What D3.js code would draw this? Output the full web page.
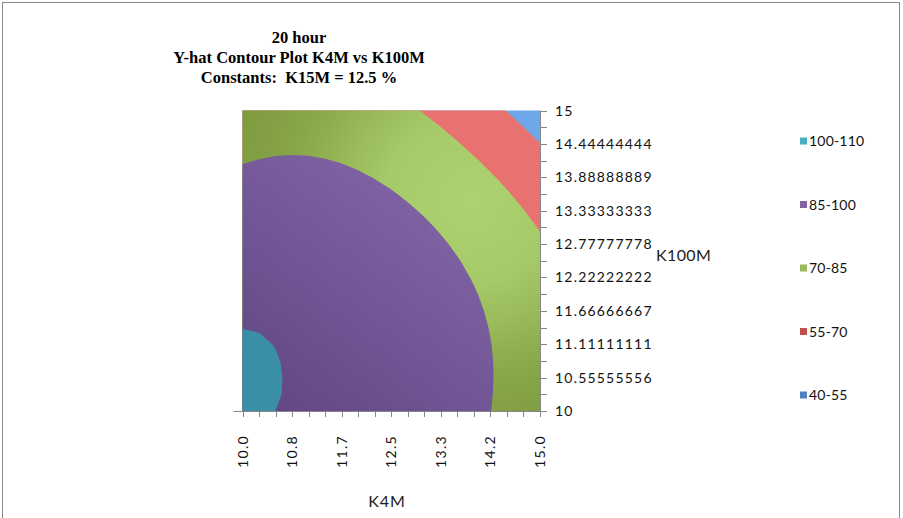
<!DOCTYPE html>
<html><head><meta charset="utf-8">
<script src="https://cdn.jsdelivr.net/npm/d3@7"></script>
<style>
html,body{margin:0;padding:0;background:#fff;}
svg{display:block;}
</style></head>
<body>
<svg id="chart" width="903" height="518"></svg>
<script>
// ---------------- data ----------------
const titleLines = ["20 hour", "Y-hat Contour Plot K4M vs K100M", "Constants:  K15M = 12.5 %"];
const xAxisTitle = "K4M";
const yAxisTitle = "K100M";
// grid positions (K4M across, K100M up)
const k4mGrid = [10.0000, 10.2778, 10.5556, 10.8333, 11.1111, 11.3889, 11.6667, 11.9444, 12.2222, 12.5000,
                 12.7778, 13.0556, 13.3333, 13.6111, 13.8889, 14.1667, 14.4444, 14.7222, 15.0000];
const k100mGrid = [10.0000, 10.2778, 10.5556, 10.8333, 11.1111, 11.3889, 11.6667, 11.9444, 12.2222, 12.5000,
                   12.7778, 13.0556, 13.3333, 13.6111, 13.8889, 14.1667, 14.4444, 14.7222, 15.0000];
const xTickLabels = ["10.0", "10.8", "11.7", "12.5", "13.3", "14.2", "15.0"];
const yTickLabels = ["10", "10.55555556", "11.11111111", "11.66666667", "12.22222222",
                     "12.77777778", "13.33333333", "13.88888889", "14.44444444", "15"];
const bandLabels = ["100-110", "85-100", "70-85", "55-70", "40-55"];
const bandLower  = [100, 85, 70, 55, 40];
// estimated Y-hat values, one row per K100M grid value (10 -> 15), columns K4M 10 -> 15
const yhatRows = [
 [100.50,100.37, 99.99, 99.43, 98.72, 97.85, 96.87, 95.84, 94.77, 93.68, 92.58, 91.44, 90.22, 88.83, 87.17, 85.09, 82.75, 80.23, 77.52],
 [100.80,100.63,100.22, 99.63, 98.89, 98.00, 97.01, 95.96, 94.89, 93.80, 92.71, 91.58, 90.38, 89.01, 87.39, 85.34, 82.99, 80.47, 77.76],
 [100.86,100.68,100.25, 99.65, 98.90, 98.01, 97.02, 95.96, 94.89, 93.82, 92.73, 91.62, 90.43, 89.08, 87.47, 85.45, 83.10, 80.57, 77.86],
 [100.77,100.60,100.17, 99.58, 98.84, 97.95, 96.96, 95.91, 94.85, 93.77, 92.69, 91.58, 90.39, 89.04, 87.42, 85.39, 83.04, 80.52, 77.80],
 [100.48,100.32, 99.92, 99.35, 98.63, 97.76, 96.79, 95.76, 94.70, 93.64, 92.56, 91.44, 90.24, 88.87, 87.23, 85.16, 82.81, 80.29, 77.57],
 [ 99.96, 99.85, 99.49, 98.96, 98.27, 97.43, 96.49, 95.49, 94.45, 93.39, 92.32, 91.19, 89.97, 88.57, 86.87, 84.74, 82.40, 79.87, 77.14],
 [ 99.22, 99.17, 98.87, 98.39, 97.75, 96.96, 96.06, 95.09, 94.07, 93.03, 91.95, 90.81, 89.56, 88.10, 86.32, 84.14, 81.79, 79.24, 76.50],
 [ 98.28, 98.30, 98.08, 97.66, 97.08, 96.34, 95.48, 94.55, 93.57, 92.54, 91.46, 90.29, 88.98, 87.44, 85.54, 83.34, 80.96, 78.39, 75.63],
 [ 97.13, 97.24, 97.10, 96.76, 96.24, 95.56, 94.76, 93.87, 92.92, 91.90, 90.80, 89.59, 88.21, 86.55, 84.52, 82.31, 79.90, 77.30, 74.50],
 [ 95.79, 96.00, 95.95, 95.69, 95.24, 94.63, 93.89, 93.04, 92.10, 91.08, 89.96, 88.69, 87.19, 85.38, 83.31, 81.05, 78.60, 75.95, 73.11],
 [ 94.26, 94.58, 94.62, 94.45, 94.08, 93.53, 92.84, 92.03, 91.11, 90.07, 88.90, 87.53, 85.89, 83.97, 81.86, 79.55, 77.04, 74.33, 71.42],
 [ 92.57, 92.99, 93.13, 93.04, 92.75, 92.26, 91.62, 90.83, 89.91, 88.84, 87.58, 86.08, 84.30, 82.34, 80.17, 77.80, 75.21, 72.42, 69.46],
 [ 90.73, 91.24, 91.47, 91.46, 91.24, 90.81, 90.20, 89.42, 88.47, 87.34, 85.96, 84.33, 82.51, 80.48, 78.23, 75.77, 73.09, 70.20, 67.30],
 [ 88.76, 89.35, 89.66, 89.72, 89.55, 89.16, 88.57, 87.78, 86.77, 85.53, 84.06, 82.39, 80.50, 78.38, 76.03, 73.47, 70.68, 67.83, 64.82],
 [ 86.68, 87.32, 87.70, 87.81, 87.68, 87.31, 86.71, 85.87, 84.79, 83.51, 81.99, 80.24, 78.25, 76.02, 73.56, 70.87, 68.09, 65.15, 61.99],
 [ 84.53, 85.18, 85.59, 85.73, 85.62, 85.24, 84.62, 83.77, 82.66, 81.31, 79.71, 77.86, 75.76, 73.41, 70.81, 68.11, 65.24, 62.14, 58.80],
 [ 82.34, 83.01, 83.42, 83.57, 83.46, 83.07, 82.43, 81.52, 80.35, 78.91, 77.21, 75.25, 73.02, 70.53, 67.93, 65.13, 62.08, 58.78, 55.24],
 [ 79.97, 80.69, 81.13, 81.29, 81.16, 80.76, 80.07, 79.10, 77.85, 76.32, 74.50, 72.40, 70.03, 67.56, 64.82, 61.83, 58.58, 55.06, 51.28],
 [ 77.43, 78.20, 78.67, 78.84, 78.71, 78.28, 77.54, 76.50, 75.16, 73.52, 71.57, 69.37, 67.00, 64.36, 61.43, 58.22, 54.73, 50.97, 46.91]
];

// ---------------- layout / style ----------------
const plot = {left: 242.5, right: 540, top: 110.5, bottom: 411};
const legendColors = {"100-110": "#4BACC6", "85-100": "#8064A2", "70-85": "#9BBB59", "55-70": "#C0504D", "40-55": "#4F81BD"};
const labelFont = "Lato, 'Open Sans', sans-serif";
const axisColor = "#868686";

const svg = d3.select("#chart");
svg.append("rect").attr("x", 0).attr("y", 0).attr("width", 903).attr("height", 518).attr("fill", "#fff");
svg.append("rect").attr("x", 2.5).attr("y", 2.5).attr("width", 897).attr("height", 530)
   .attr("fill", "none").attr("stroke", "#8a8a8a").attr("stroke-width", 1);

const x = d3.scaleLinear().domain([d3.min(k4mGrid), d3.max(k4mGrid)]).range([plot.left, plot.right]);
const y = d3.scaleLinear().domain([d3.min(k100mGrid), d3.max(k100mGrid)]).range([plot.bottom, plot.top]);

const nx = k4mGrid.length, ny = k100mGrid.length;
// grid index (cell-centre convention of d3.contours) -> data value
const gx = d3.scaleLinear().domain([0.5, nx - 0.5]).range([k4mGrid[0], k4mGrid[nx - 1]]);
const gy = d3.scaleLinear().domain([0.5, ny - 0.5]).range([k100mGrid[0], k100mGrid[ny - 1]]);

const flat = yhatRows.flat();
const levels = bandLower.slice().reverse(); // 40,55,70,85,100
const contours = d3.contours().size([nx, ny]).thresholds(levels)(flat);

const proj = d3.geoTransform({
  point: function(px, py) { this.stream.point(x(gx(px)), y(gy(py))); }
});
const path = d3.geoPath(proj);

// gradients emulating Excel's 3-D shading
const defs = svg.append("defs");
defs.append("clipPath").attr("id", "plotClip").append("rect")
  .attr("x", plot.left).attr("y", plot.top)
  .attr("width", plot.right - plot.left).attr("height", plot.bottom - plot.top);
const gGreen = defs.append("radialGradient").attr("id", "gGreen")
  .attr("gradientUnits", "userSpaceOnUse").attr("cx", 470).attr("cy", 200).attr("r", 240);
[[0, "#AED271"], [0.35, "#A6CA67"], [0.75, "#88A748"], [1, "#7E9B40"]].forEach(s =>
  gGreen.append("stop").attr("offset", s[0]).attr("stop-color", s[1]));
const gPurple = defs.append("linearGradient").attr("id", "gPurple")
  .attr("gradientUnits", "userSpaceOnUse").attr("x1", 270).attr("y1", 400).attr("x2", 430).attr("y2", 200);
[[0, "#634885"], [1, "#7F63A4"]].forEach(s =>
  gPurple.append("stop").attr("offset", s[0]).attr("stop-color", s[1]));

const plotFill = {40: "#6EA8E8", 55: "#E8726F", 70: "url(#gGreen)", 85: "url(#gPurple)", 100: "#3A8FA5"};

const gPlot = svg.append("g").attr("clip-path", "url(#plotClip)");
gPlot.selectAll("path.band").data(contours).join("path")
  .attr("class", "band")
  .attr("d", path)
  .attr("fill", d => plotFill[d.value])
  .attr("stroke", "none");

// ---------------- axes ----------------
svg.append("line").attr("x1", plot.left - 9).attr("x2", plot.right)
  .attr("y1", plot.bottom + 0.5).attr("y2", plot.bottom + 0.5).attr("stroke", axisColor);
svg.selectAll("line.xtick").data(k4mGrid).join("line").attr("class", "xtick")
  .attr("x1", d => Math.round(x(d)) + 0.5).attr("x2", d => Math.round(x(d)) + 0.5)
  .attr("y1", plot.bottom).attr("y2", plot.bottom + 6).attr("stroke", axisColor);
svg.append("line").attr("x1", plot.right + 0.5).attr("x2", plot.right + 0.5)
  .attr("y1", plot.top).attr("y2", plot.bottom + 1).attr("stroke", axisColor);
svg.selectAll("line.ytick").data(k100mGrid).join("line").attr("class", "ytick")
  .attr("x1", plot.right).attr("x2", plot.right + 7)
  .attr("y1", d => Math.round(y(d)) + 0.5).attr("y2", d => Math.round(y(d)) + 0.5).attr("stroke", axisColor);

const xLabelPos = xTickLabels.map((t, i) => ({t, v: k4mGrid[i * 3]}));
svg.selectAll("text.xl").data(xLabelPos).join("text").attr("class", "xl")
  .attr("transform", d => `translate(${x(d.v)},${plot.bottom + 24}) rotate(-90)`)
  .attr("text-anchor", "end").attr("dy", "0.36em")
  .style("font-family", labelFont).style("font-size", "14px").style("letter-spacing", "1.3px")
  .attr("fill", "#111").text(d => d.t);

const yLabelPos = yTickLabels.map((t, i) => ({t, v: k100mGrid[i * 2]}));
svg.selectAll("text.yl").data(yLabelPos).join("text").attr("class", "yl")
  .attr("x", plot.right + 15).attr("y", d => y(d.v)).attr("dy", "0.36em")
  .style("font-family", labelFont).style("font-size", "14px").style("letter-spacing", "1.2px")
  .attr("fill", "#111").text(d => d.t);

svg.append("text").attr("x", 387).attr("y", 507).attr("text-anchor", "middle")
  .style("font-family", labelFont).style("font-size", "16px").style("letter-spacing", "1px")
  .attr("fill", "#222").text(xAxisTitle);
svg.append("text").attr("x", 656).attr("y", 255).attr("dy", "0.36em")
  .style("font-family", labelFont).style("font-size", "16px").style("letter-spacing", "0.4px")
  .attr("fill", "#222").text(yAxisTitle);

// title
svg.selectAll("text.title").data(titleLines).join("text").attr("class", "title")
  .attr("x", 299).attr("y", (d, i) => 43 + i * 20).attr("text-anchor", "middle")
  .style("font-family", "'Liberation Serif', 'Times New Roman', serif")
  .style("font-weight", "bold").style("font-size", "16.5px").style("white-space", "pre")
  .attr("fill", "#000").text(d => d);

// legend
const lg = svg.append("g");
const legendItems = bandLabels.map((t, i) => ({t, i}));
lg.selectAll("rect").data(legendItems).join("rect")
  .attr("x", 800).attr("y", d => 141 + d.i * 63.5 - 3.5).attr("width", 7).attr("height", 7)
  .attr("fill", d => legendColors[d.t]);
lg.selectAll("text").data(legendItems).join("text")
  .attr("x", 809).attr("y", d => 141 + d.i * 63.5).attr("dy", "0.36em")
  .style("font-family", labelFont).style("font-size", "14px").style("letter-spacing", "0.2px")
  .attr("fill", "#111").text(d => d.t);
</script>
</body></html>
